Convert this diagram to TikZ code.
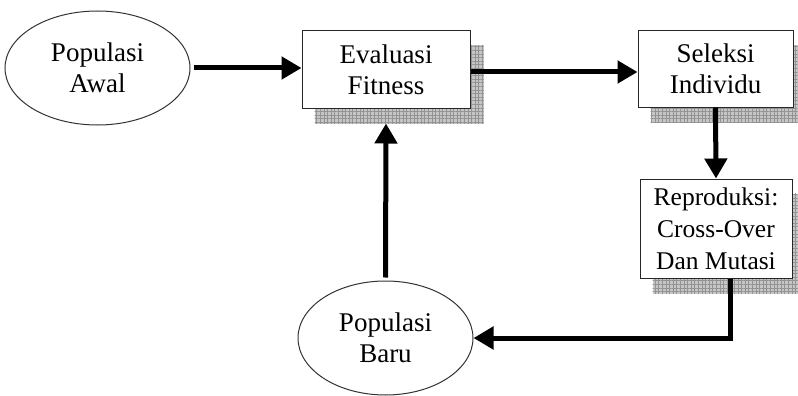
\documentclass[tikz,border=0pt]{standalone}
\usepackage{fontspec}
\setmainfont{Liberation Serif}
\usetikzlibrary{arrows.meta,patterns.meta,shapes.geometric,backgrounds}

\tikzset{
  procbox/.style={draw=black!85, line width=1pt, fill=white, rectangle, align=center,
    inner sep=0pt, font=\fontsize{27}{31}\selectfont},
  popnode/.style={draw=black!80, line width=1pt, fill=white, ellipse, align=center,
    inner sep=0pt, font=\fontsize{27}{31}\selectfont},
  flow/.style={line width=5pt, -{Triangle[length=20pt,width=22pt]}},
  gridshadow/.style={fill=gray!45,
    postaction={pattern={Lines[angle=0,distance=3.6pt,line width=0.7pt]}, pattern color=gray!85},
    postaction={pattern={Lines[angle=90,distance=3.6pt,line width=0.7pt]}, pattern color=gray!85}}
}

% hatched drop shadow behind a box
\newcommand{\gridshadowof}[1]{%
  \fill[gridshadow] ([shift={(13,15)}]#1.north west) rectangle ([shift={(13,15)}]#1.south east);}

\begin{document}
\begin{tikzpicture}[x=1pt,y=-1pt]
  \clip (0,0) rectangle (798,396);

  % process boxes
  \node[procbox, minimum width=168pt, minimum height=77pt] (eval) at (386,69.5) {Evaluasi\\Fitness};
  \node[procbox, minimum width=155pt, minimum height=76pt] (sel) at (715.5,69) {Seleksi\\Individu};
  \node[procbox, minimum width=152pt, minimum height=99pt,
        font=\fontsize{25.5}{32}\selectfont] (rep) at (716,228.5) {Reproduksi:\\Cross-Over\\Dan Mutasi};

  % white page, then the shadows beneath the boxes
  \begin{pgfonlayer}{background}
    \fill[white] (0,0) rectangle (798,396);
    \gridshadowof{eval}
    \gridshadowof{sel}
    \gridshadowof{rep}
  \end{pgfonlayer}

  % populations
  \node[popnode, minimum width=185pt, minimum height=114pt] (awal) at (97.5,68) {Populasi\\Awal};
  \node[popnode, minimum width=175pt, minimum height=114pt] (baru) at (385.5,338) {Populasi\\Baru};

  % flow
  \draw[flow, shorten <=3pt] (awal.east) -- (awal.east -| eval.west);
  \draw[flow] (eval.east |- 0,72) -- (sel.west |- 0,72);
  \draw[flow] (sel.south) -- (rep.north);
  \draw[flow] ([xshift=14pt]rep.south) |- (baru.east);
  \draw[flow] ([yshift=3pt]baru.north) -- ([yshift=-15pt]eval.south);
\end{tikzpicture}
\end{document}
